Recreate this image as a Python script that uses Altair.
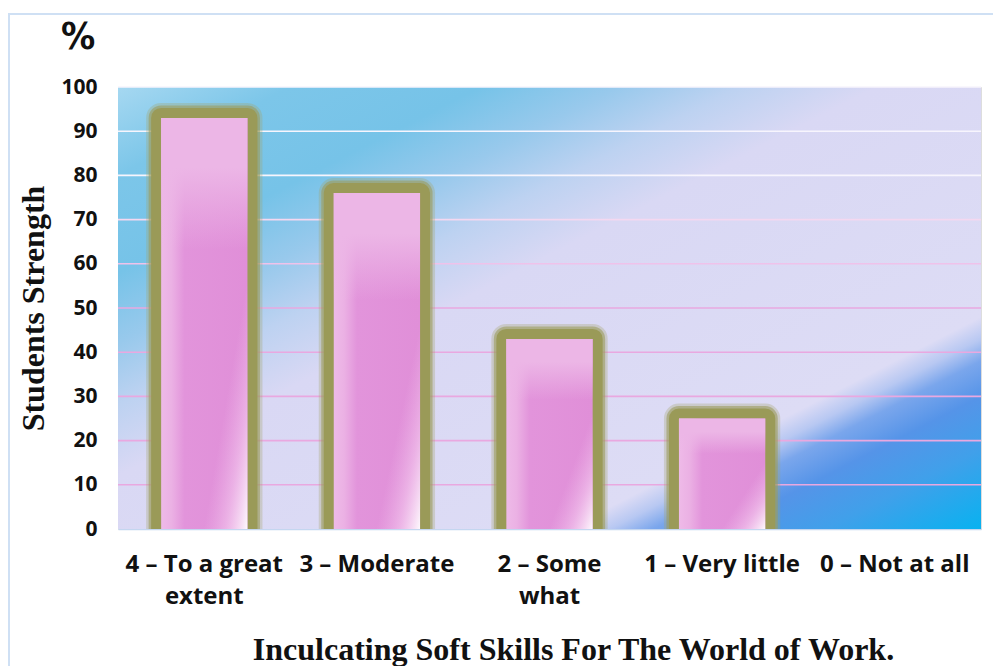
import altair as alt
import pandas as pd

# ---- data ----
categories = ["4 – To a great\nextent", "3 – Moderate", "2 – Some\nwhat", "1 – Very little", "0 – Not at all"]
values = [93, 76, 43, 25, 0]
y_ticks = [0, 10, 20, 30, 40, 50, 60, 70, 80, 90, 100]
grid_values = [10, 20, 30, 40, 50, 60, 70, 80, 90, 100]

df = pd.DataFrame({"category": categories, "value": values})
glow_df = df[df["value"] > 0]
grid_df = pd.DataFrame({"value": grid_values})
one = pd.DataFrame({"k": [0]})
unit_label = pd.DataFrame({"t": ["%"]})

W, H = 863, 442

bg_gradient = {
    "gradient": "linear", "x1": 0, "y1": 0, "x2": 1, "y2": 1,
    "stops": [
        {"offset": 0.0, "color": "#a6d8f1"},
        {"offset": 0.10, "color": "#7cc6e9"},
        {"offset": 0.21, "color": "#76c3e8"},
        {"offset": 0.29, "color": "#98c9ec"},
        {"offset": 0.36, "color": "#bdd2f1"},
        {"offset": 0.44, "color": "#d9d8f4"},
        {"offset": 0.76, "color": "#dddcf5"},
        {"offset": 0.785, "color": "#b8c8f2"},
        {"offset": 0.81, "color": "#7aa6ec"},
        {"offset": 0.85, "color": "#5594e8"},
        {"offset": 0.91, "color": "#40a0ea"},
        {"offset": 1.0, "color": "#08b2f0"},
    ],
}

bar_gradient = {
    "gradient": "linear", "x1": 0, "y1": 0, "x2": 1, "y2": 0,
    "stops": [
        {"offset": 0.0, "color": "#eebae8"},
        {"offset": 0.12, "color": "#ebb1e4"},
        {"offset": 0.27, "color": "#e294db"},
        {"offset": 1.0, "color": "#e08fd8"},
    ],
}

top_gradient = {
    "gradient": "linear", "x1": 0, "y1": 0, "x2": 0, "y2": 1,
    "stops": [
        {"offset": 0.0, "color": "rgba(236,182,230,1)"},
        {"offset": 0.12, "color": "rgba(236,182,230,1)"},
        {"offset": 0.32, "color": "rgba(236,182,230,0)"},
        {"offset": 1.0, "color": "rgba(236,182,230,0)"},
    ],
}

hl_gradient = {
    "gradient": "linear", "x1": 1, "y1": 1, "x2": 0.7, "y2": 0.75,
    "stops": [
        {"offset": 0.0, "color": "rgba(255,255,255,0.95)"},
        {"offset": 0.5, "color": "rgba(246,210,242,0.5)"},
        {"offset": 1.0, "color": "rgba(240,190,236,0)"},
    ],
}

x_enc = alt.X(
    "category:N",
    sort=categories,
    scale=alt.Scale(paddingInner=0.5, paddingOuter=0.25),
    axis=alt.Axis(
        labelExpr="split(datum.label, '\\n')",
        labelAngle=0,
        labelFont="Open Sans",
        labelFontWeight="bold",
        labelFontSize=24,
        labelColor="#111111",
        labelLineHeight=32,
        labelBaseline="alphabetic",
        labelPadding=42,
        ticks=False,
        tickSize=0,
        domainColor="#c4d6f0",
        domainWidth=1.5,
        title="Inculcating Soft Skills For The World of Work.",
        titleFont="Liberation Serif",
        titleFontWeight="bold",
        titleFontSize=32,
        titleColor="#111111",
        titleX=455,
        titleY=130,
        titleAlign="center",
        titleBaseline="alphabetic",
    ),
)

y_scale = alt.Scale(domain=[0, 100], nice=False)

y_axis = alt.Axis(
    values=y_ticks,
    grid=False,
    domain=False,
    ticks=False,
    tickSize=0,
    labelFont="Open Sans",
    labelFontWeight="bold",
    labelFontSize=21,
    labelColor="#111111",
    labelPadding=21,
    title="Students Strength",
    titleFont="Liberation Serif",
    titleFontWeight="bold",
    titleFontSize=32,
    titleColor="#111111",
    titleAngle=270,
    titleX=-75,
    titleY=221,
    titleAlign="center",
    titleBaseline="alphabetic",
)

y_enc = alt.Y("value:Q", scale=y_scale, axis=y_axis)

frame = alt.Chart(one).mark_rect(
    fill="transparent", stroke="#cfe0f4", strokeWidth=2, clip=False
).encode(x=alt.value(-109), x2=alt.value(1000), y=alt.value(-73), y2=alt.value(700))

unit = alt.Chart(unit_label).mark_text(
    align="left", baseline="alphabetic", font="DejaVu Sans Condensed",
    fontWeight="bold", fontSize=38, color="#111111"
).encode(text="t:N", x=alt.value(-57), y=alt.value(-38))

background = alt.Chart(one).mark_rect(color=bg_gradient).encode(
    x=alt.value(0), x2=alt.value(W), y=alt.value(0), y2=alt.value(H)
)

grid = alt.Chart(grid_df).mark_rule(strokeWidth=1.6).encode(
    y=y_enc,
    color={
        "condition": [
            {"test": "datum.value >= 80", "value": "#f7f5fd"},
            {"test": "datum.value >= 70", "value": "#f4d8f0"},
            {"test": "datum.value >= 60", "value": "#efc2ea"},
        ],
        "value": "#e9a8e0",
    },
)

glow_outer = alt.Chart(glow_df).mark_bar(
    color="#a4a468", stroke="#a4a468", strokeWidth=30, strokeJoin="round",
    opacity=0.3, clip=True
).encode(x=x_enc, y=y_enc)

glow_mid = alt.Chart(glow_df).mark_bar(
    color="#9d9d5e", stroke="#9d9d5e", strokeWidth=25, strokeJoin="round",
    opacity=0.6, clip=True
).encode(x=x_enc, y=y_enc)

glow = alt.Chart(glow_df).mark_bar(
    color="#9a9a58", stroke="#9a9a58", strokeWidth=20, strokeJoin="round", clip=True
).encode(x=x_enc, y=y_enc)

pink = alt.Chart(df).mark_bar(color=bar_gradient).encode(x=x_enc, y=y_enc)

pink_top = alt.Chart(df).mark_bar(color=top_gradient).encode(x=x_enc, y=y_enc)

pink_hl = alt.Chart(df).mark_bar(color=hl_gradient).encode(x=x_enc, y=y_enc)

chart = alt.layer(
    frame, unit, background, grid, glow_outer, glow_mid, glow, pink, pink_top, pink_hl
).properties(
    width=W,
    height=H,
    autosize=alt.AutoSizeParams(type="none"),
    padding={"left": 110, "top": 79, "right": 12, "bottom": 137},
).configure_view(stroke=None).configure(background="white")

chart.save("out.html", embed_options={"renderer": "svg", "actions": False})
